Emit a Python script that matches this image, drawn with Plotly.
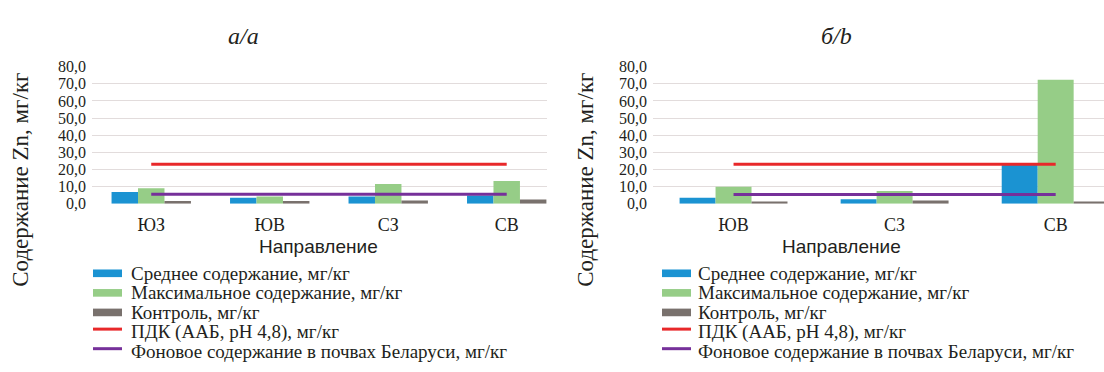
import plotly.graph_objects as go

# ---- data ----
dirs_a = ["ЮЗ", "ЮВ", "СЗ", "СВ"]
mean_a = [6.8, 3.5, 4.2, 4.7]
max_a = [9.0, 4.2, 11.4, 13.2]
control_a = [1.6, 1.5, 1.9, 2.4]
pdk_a = [23.0, 23.0, 23.0, 23.0]
background_a = [5.5, 5.5, 5.5, 5.5]

dirs_b = ["ЮВ", "СЗ", "СВ"]
mean_b = [3.4, 2.6, 22.5]
max_b = [9.9, 7.4, 72.4]
control_b = [1.3, 1.9, 1.3]
pdk_b = [23.0, 23.0, 23.0]
background_b = [5.4, 5.4, 5.4]

y_ticks = [0, 10, 20, 30, 40, 50, 60, 70, 80]

names = [
    "Среднее содержание, мг/кг",
    "Максимальное содержание, мг/кг",
    "Контроль, мг/кг",
    "ПДК (ААБ, pH 4,8), мг/кг",
    "Фоновое содержание в почвах Беларуси, мг/кг",
]
colors = ["#1b93d2", "#96cd87", "#79716d", "#e8282a", "#76309a"]

W, H = 1104, 372


def px(x):
    return x / W


def py(y):
    return 1 - y / H


SERIF = "'Liberation Serif', 'Times New Roman', Times, serif"
SANS = "'Liberation Sans', Arial, sans-serif"

fig = go.Figure()


def add_panel(xref, yref, cats, mean, mx, ctrl, pdk, bg):
    for vals, c in zip([mean, mx, ctrl], colors[:3]):
        fig.add_trace(go.Bar(x=cats, y=vals, marker=dict(color=c, line=dict(width=0)),
                             xaxis=xref, yaxis=yref, showlegend=False))
    for vals, c in zip([pdk, bg], colors[3:]):
        fig.add_trace(go.Scatter(x=cats, y=vals, mode="lines", line=dict(color=c, width=3),
                                 xaxis=xref, yaxis=yref, showlegend=False))


add_panel("x", "y", dirs_a, mean_a, max_a, control_a, pdk_a, background_a)
add_panel("x2", "y2", dirs_b, mean_b, max_b, control_b, pdk_b, background_b)

ydom = [py(205), py(61.5)]
common_y = dict(range=[0, 80], tickvals=y_ticks, tickformat=".1f", showgrid=True,
                gridcolor="#e2dcdc", gridwidth=1, zeroline=False, showline=False,
                ticks="", tickfont=dict(family=SERIF, size=16, color="#231f20"),
                ticklabelstandoff=5, fixedrange=True)
common_x = dict(type="category", showgrid=False, zeroline=False, showline=False, ticks="",
                tickfont=dict(family=SERIF, size=18, color="#231f20"), ticklabelstandoff=8)

fig.update_layout(
    width=W, height=H,
    margin=dict(l=0, r=0, t=0, b=0),
    paper_bgcolor="white", plot_bgcolor="white",
    separators=", ",
    barmode="group", bargap=0.33, bargroupgap=0,
    xaxis=dict(domain=[px(92), px(547)], range=[-0.5, 3.34], anchor="y", **common_x),
    yaxis=dict(domain=ydom, anchor="x", **common_y),
    xaxis2=dict(domain=[px(653), 1.0], range=[-0.5, 2.3], anchor="y2", **common_x),
    yaxis2=dict(domain=ydom, anchor="x2", **common_y),
)

annotations = []
shapes = []

# panel titles
for txt, x in [("a/a", 243), ("б/b", 836)]:
    annotations.append(dict(text=txt, x=px(x), y=py(29), xref="paper", yref="paper",
                            showarrow=False, xanchor="center", yanchor="middle",
                            font=dict(family=SERIF, size=24, color="#231f20", style="italic")))

# y-axis titles
for x in [21, 586]:
    annotations.append(dict(text="Содержание Zn, мг/кг", x=px(x), y=py(180), xref="paper",
                            yref="paper", showarrow=False, textangle=-90,
                            xanchor="center", yanchor="middle",
                            font=dict(family=SERIF, size=23, color="#231f20")))

# x-axis titles
for x in [318, 842]:
    annotations.append(dict(text="Направление", x=px(x), y=py(250), xref="paper", yref="paper",
                            showarrow=False, xanchor="center", yanchor="middle",
                            font=dict(family=SANS, size=19, color="#231f20")))

# legends under each panel
rows = [278, 298.5, 319, 339.5, 360]
for sx, tx in [(93, 129), (662, 696)]:
    for i, (nm, c, ry) in enumerate(zip(names, colors, rows)):
        if i < 3:
            shapes.append(dict(type="rect", xref="paper", yref="paper",
                               x0=px(sx), x1=px(sx + 29), y0=py(ry + 4), y1=py(ry - 4),
                               fillcolor=c, line=dict(width=0)))
        else:
            shapes.append(dict(type="line", xref="paper", yref="paper",
                               x0=px(sx), x1=px(sx + 29), y0=py(ry - 3), y1=py(ry - 3),
                               line=dict(color=c, width=3)))
        annotations.append(dict(text=nm, x=px(tx), y=py(ry), xref="paper", yref="paper",
                                showarrow=False, xanchor="left", yanchor="middle",
                                font=dict(family=SERIF, size=19, color="#231f20")))

fig.update_layout(annotations=annotations, shapes=shapes)

fig.write_html("out.html")
